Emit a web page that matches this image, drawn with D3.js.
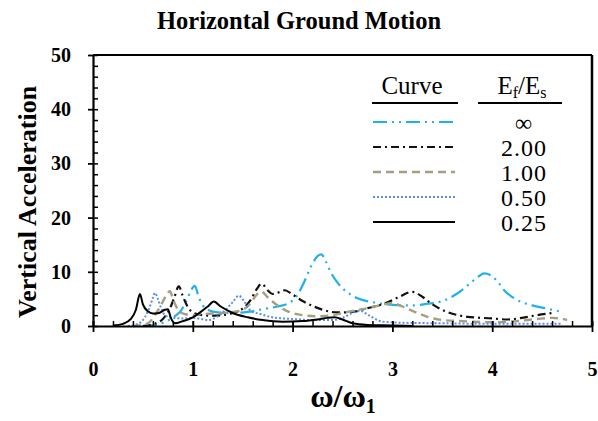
<!DOCTYPE html>
<html><head><meta charset="utf-8">
<script src="https://cdn.jsdelivr.net/npm/d3@7"></script>
<style>
html,body{margin:0;padding:0;background:#fff;}
svg{display:block;font-family:"Liberation Serif","Times New Roman",serif;}
</style></head>
<body><svg id="chart" width="598" height="421"></svg>
<script>
// ---- data ----
const xTicks = [0, 1, 2, 3, 4, 5];
const yTicks = [0, 10, 20, 30, 40, 50];
const legendLabels = ["∞", "2.00", "1.00", "0.50", "0.25"];

const infX = [0.5,0.65,0.75,0.82,0.88,0.94,0.98,1.02,1.06,1.1,1.16,1.25,1.4,1.55,1.7,1.85,1.97,2.05,2.12,2.19,2.25,2.29,2.33,2.38,2.45,2.55,2.65,2.8,3.0,3.2,3.35,3.5,3.65,3.78,3.86,3.92,3.98,4.05,4.12,4.25,4.4,4.55,4.7];
const infY = [0,0.3,1.0,1.8,2.8,4.8,6.5,7.4,5.3,3.8,2.9,2.5,2.4,2.6,3.1,3.6,4.3,5.8,8.3,11.2,12.9,13.2,12.0,10.0,8.0,6.2,5.1,4.4,3.9,3.8,4.1,4.6,6.0,7.9,9.1,9.7,9.4,8.3,6.6,4.8,3.8,3.2,2.6];

const r200X = [0.5,0.6,0.7,0.76,0.81,0.86,0.9,0.95,1.0,1.1,1.2,1.3,1.4,1.5,1.58,1.64,1.69,1.75,1.8,1.86,1.92,2.0,2.1,2.2,2.3,2.45,2.6,2.75,2.9,3.05,3.2,3.3,3.4,3.55,3.75,4.0,4.15,4.3,4.45,4.6];
const r200Y = [0,0.3,1.3,2.8,5.0,7.3,5.5,3.5,2.5,2.0,1.9,2.0,2.4,3.2,4.8,6.8,7.8,6.6,5.9,6.2,6.6,5.8,4.6,3.7,3.0,2.5,2.6,3.3,4.0,5.2,6.3,5.4,4.0,2.6,1.7,1.4,1.2,1.5,2.0,2.4];

const r100X = [0.4,0.55,0.62,0.68,0.73,0.77,0.81,0.86,0.92,1.0,1.1,1.2,1.3,1.4,1.5,1.58,1.64,1.69,1.75,1.82,1.94,2.1,2.25,2.4,2.55,2.7,2.85,3.0,3.1,3.2,3.35,3.5,3.7,4.0,4.25,4.45,4.6,4.75];
const r100Y = [0,0.5,2.0,3.8,5.5,6.4,4.5,2.8,2.2,2.0,2.2,2.3,2.4,2.6,3.0,4.2,5.8,6.3,5.3,4.2,2.8,2.0,1.8,2.0,2.6,3.1,3.7,4.2,3.6,2.8,1.7,1.1,0.9,0.7,0.9,1.3,1.5,1.1];

const r050X = [0.35,0.45,0.52,0.57,0.6,0.62,0.65,0.68,0.72,0.8,0.9,1.0,1.08,1.16,1.25,1.33,1.4,1.46,1.52,1.58,1.68,1.8,2.0,2.2,2.4,2.5,2.6,2.68,2.76,2.9,3.1,3.5,4.0,4.5,4.7];
const r050Y = [0,0.4,1.6,3.6,5.2,6.1,5.0,3.4,2.0,1.5,1.4,1.5,1.3,1.1,1.8,3.0,4.4,5.6,4.4,2.8,2.2,1.6,1.3,1.1,1.1,1.5,2.4,2.8,2.0,0.8,0.6,0.5,0.4,0.4,0.4];

const r025X = [0.2,0.3,0.38,0.43,0.47,0.5,0.55,0.6,0.66,0.72,0.75,0.78,0.82,0.9,1.0,1.08,1.15,1.21,1.28,1.4,1.55,1.7,1.9,2.1,2.25,2.35,2.42,2.5,2.6,2.75,3.0,3.2];
const r025Y = [0.1,0.4,1.3,3.0,5.9,4.0,2.7,2.3,2.4,3.0,3.1,1.5,0.5,0.9,1.6,2.6,3.6,4.5,3.6,2.4,1.6,1.1,0.8,0.9,1.2,1.5,1.6,1.2,0.5,0.2,0.1,0];

const series = [
  {x: infX,  y: infY,  color: "#1fb2ea", dash: "14,5,2,5,2,5", w: 2.2},
  {x: r200X, y: r200Y, color: "#111111", dash: "8,4,2,4",      w: 2.2},
  {x: r100X, y: r100Y, color: "#a59f80", dash: "8,5",          w: 2.4},
  {x: r050X, y: r050Y, color: "#5b8fe6", dash: "2,2",          w: 2},
  {x: r025X, y: r025Y, color: "#000000", dash: null,           w: 2}
];

// ---- layout ----
const svg = d3.select("#chart");
const L = 93, R = 592, T = 55, B = 326;
const x = d3.scaleLinear().domain([0, 5]).range([L, R]);
const y = d3.scaleLinear().domain([0, 50]).range([B, T]);
const FONT = "Liberation Serif, Times New Roman, serif";

svg.append("rect").attr("width", 598).attr("height", 421).attr("fill", "#fff");

// title
svg.append("text").attr("x", 299).attr("y", 29).attr("text-anchor", "middle")
  .attr("font-size", 24.5).attr("font-weight", "bold").text("Horizontal Ground Motion");

// box top/right
svg.append("line").attr("x1", L).attr("x2", R).attr("y1", T).attr("y2", T)
  .attr("stroke", "#000").attr("stroke-width", 2);
svg.append("line").attr("x1", R).attr("x2", R).attr("y1", T).attr("y2", B)
  .attr("stroke", "#000").attr("stroke-width", 2.5);

// curves
const line = d3.line().x(d => x(d[0])).y(d => y(d[1])).curve(d3.curveMonotoneX);
const plot = svg.append("g");
series.forEach(s => {
  const pts = s.x.map((v, i) => [v, s.y[i]]);
  plot.append("path").attr("d", line(pts)).attr("fill", "none")
    .attr("stroke", s.color).attr("stroke-width", s.w)
    .attr("stroke-dasharray", s.dash);
});

// y axis
const yMinor = d3.range(0, 51, 2);
svg.append("g").attr("transform", `translate(${L},0)`)
  .call(d3.axisRight(y).tickValues(yMinor).tickSize(5).tickFormat(""))
  .call(g => g.select(".domain").remove())
  .selectAll("line").attr("stroke-width", 1.5);
const yAx = svg.append("g").attr("transform", `translate(${L},0)`)
  .call(d3.axisLeft(y).tickValues(yTicks).tickFormat(d3.format("d")).tickSizeInner(5).tickSizeOuter(0).tickPadding(17));
yAx.select(".domain").attr("stroke-width", 2.2);
yAx.selectAll("line").attr("stroke-width", 1.8);
yAx.selectAll("text").attr("font-size", 20).attr("font-weight", "bold").attr("font-family", FONT);

// x axis
const xMinor = d3.range(0, 5.01, 0.2);
svg.append("g").attr("transform", `translate(0,${B})`)
  .call(d3.axisTop(x).tickValues(xMinor).tickSize(5).tickFormat(""))
  .call(g => g.select(".domain").remove())
  .selectAll("line").attr("stroke-width", 1.5);
svg.append("g").attr("transform", `translate(0,${B})`)
  .call(d3.axisTop(x).tickValues(xTicks).tickSize(5).tickFormat(""))
  .call(g => g.select(".domain").remove())
  .selectAll("line").attr("stroke-width", 1.8);
const xAx = svg.append("g").attr("transform", `translate(0,${B})`)
  .call(d3.axisBottom(x).tickValues(xTicks).tickFormat(d3.format("d")).tickSizeInner(6).tickSizeOuter(0).tickPadding(30));
xAx.select(".domain").attr("stroke-width", 2.2);
xAx.selectAll("line").attr("stroke-width", 1.8);
xAx.selectAll("text").attr("font-size", 20).attr("font-weight", "bold").attr("font-family", FONT);

// axis titles
svg.append("text").attr("transform", "translate(36,202) rotate(-90)")
  .attr("text-anchor", "middle").attr("font-size", 26).attr("font-weight", "bold")
  .text("Vertical Acceleration");
const xt = svg.append("text").attr("x", 343).attr("y", 407).attr("text-anchor", "middle")
  .attr("font-size", 32).attr("font-weight", "bold");
xt.append("tspan").text("ω/ω");
xt.append("tspan").attr("font-size", 20).attr("dy", 6).text("1");

// legend
const lg = svg.append("g");
lg.append("text").attr("x", 412).attr("y", 94).attr("text-anchor", "middle")
  .attr("font-size", 25).text("Curve");
const hd = lg.append("text").attr("x", 522).attr("y", 94).attr("text-anchor", "middle")
  .attr("font-size", 25);
hd.append("tspan").text("E");
hd.append("tspan").attr("font-size", 16).attr("dy", 4).text("f");
hd.append("tspan").attr("dy", -4).text("/E");
hd.append("tspan").attr("font-size", 16).attr("dy", 4).text("s");
lg.append("line").attr("x1", 372).attr("x2", 458).attr("y1", 103).attr("y2", 103)
  .attr("stroke", "#000").attr("stroke-width", 2);
lg.append("line").attr("x1", 478).attr("x2", 562).attr("y1", 103).attr("y2", 103)
  .attr("stroke", "#000").attr("stroke-width", 2);
const rowY = d3.scaleLinear().domain([0, 4]).range([122, 222]);
series.forEach((s, i) => {
  lg.append("line").attr("x1", 373).attr("x2", 455).attr("y1", rowY(i)).attr("y2", rowY(i))
    .attr("stroke", s.color).attr("stroke-width", s.w).attr("stroke-dasharray", s.dash);
  lg.append("text").attr("x", 524).attr("y", rowY(i) + 9).attr("text-anchor", "middle")
    .attr("font-size", 24).attr("letter-spacing", 1).text(legendLabels[i]);
});
</script></body></html>
